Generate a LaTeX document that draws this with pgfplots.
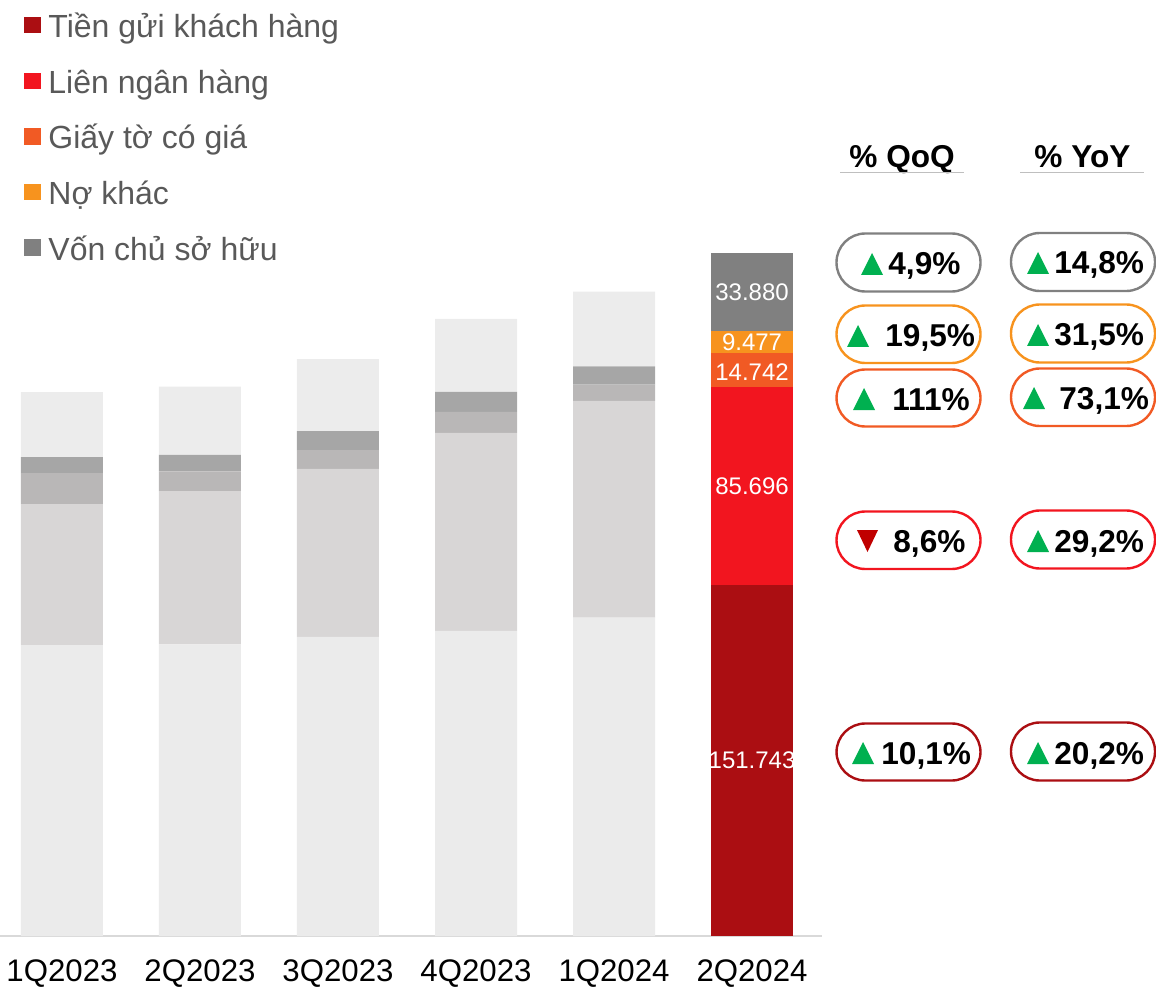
\documentclass[border=0pt]{standalone}
\usepackage{pgfplots}
\pgfplotsset{compat=1.18}
\usepackage{fontspec}
\setmainfont{Liberation Sans}
\definecolor{cA}{HTML}{AB0E12}
\definecolor{cB}{HTML}{F2151F}
\definecolor{cC}{HTML}{F15A24}
\definecolor{cD}{HTML}{F7931E}
\definecolor{cE}{HTML}{808080}
\definecolor{mA}{HTML}{EBEBEB}
\definecolor{mB}{HTML}{D8D6D6}
\definecolor{mC}{HTML}{B9B7B7}
\definecolor{mD}{HTML}{A6A6A6}
\definecolor{mE}{HTML}{ECECEC}
\definecolor{txt}{HTML}{595959}
\definecolor{upg}{HTML}{00B050}
\definecolor{dnr}{HTML}{C00000}
\definecolor{hl}{HTML}{BFBFBF}
\pgfplotsset{base/.style={
  at={(0pt,25.5pt)},anchor=south west,scale only axis,
  width=411pt,height=346.65pt,
  xmin=-0.449,xmax=5.507,ymin=0,ymax=300000,
  ybar stacked,bar width=41pt,clip=false,
  axis y line=none,
}}
\newcommand\pill[5]{% x left, y top, y bottom, colour
  \draw[#4,line width=1.2pt,rounded corners=14.4pt] (#1,#2) rectangle (#1+144,#3);}
\newcommand\up[2]{\fill[upg] (#1,#2) -- (#1+22,#2) -- (#1+11,#2-22) -- cycle;}
\newcommand\down[2]{\fill[dnr] (#1,#2) -- (#1+21,#2) -- (#1+10.5,#2+22) -- cycle;}
\newcommand\lab[3]{\node[anchor=base west,inner sep=0pt,font=\fontsize{15.8}{19}\selectfont\bfseries] at (#1,#2) {#3};}
\begin{document}
\begin{tikzpicture}
\path[use as bounding box] (0,0) rectangle (578pt,493.5pt);
\begin{axis}[base,
  axis x line=bottom,
  axis line style={-},
  x axis line style={draw=black!15,line width=1.3pt},
  xtick={0,1,2,3,4,5},
  xticklabels={1Q2023,2Q2023,3Q2023,4Q2023,1Q2024,2Q2024},
  major tick length=0pt,
  xticklabel style={font=\fontsize{15.6}{19}\selectfont,text=black,yshift=-8.5pt},
]
\addplot[fill=mA,draw=none] coordinates {(0,125900)(1,126200)(2,129400)(3,132000)(4,137800)};
\addplot[fill=mB,draw=none] coordinates {(0,61000)(1,66300)(2,72700)(3,85700)(4,93800)};
\addplot[fill=mC,draw=none] coordinates {(0,13400)(1,8500)(2,8200)(3,9100)(4,6990)};
\addplot[fill=mD,draw=none] coordinates {(0,6900)(1,7200)(2,8200)(3,8650)(4,7930)};
\addplot[fill=mE,draw=none] coordinates {(0,28100)(1,29500)(2,31150)(3,31600)(4,32300)};
\end{axis}
\begin{axis}[base,
  axis x line=none,
  point meta=explicit symbolic,
  nodes near coords,
  nodes near coords style={anchor=center,text=white,inner sep=0pt,font=\fontsize{12}{14}\selectfont},
  legend style={at={(0.0292,1.3367)},anchor=north west,draw=none,fill=none,inner sep=0pt,
    row sep=0pt,cells={anchor=west},
    nodes={font=\fontsize{16}{19}\selectfont,text=txt,text height=14pt,text depth=13.8pt,inner sep=0pt},
    /tikz/column 2/.style={column sep=0pt}},
  legend image code/.code={\fill[#1] (0pt,2pt) rectangle (8.5pt,10.2pt); \path[fill=none,draw=none] (0pt,0pt) -- (12pt,0pt);},
]
\addplot[fill=cA,draw=none] coordinates {(5,151743)[151.743]};
\addlegendentry{Tiền gửi khách hàng}
\addplot[fill=cB,draw=none] coordinates {(5,85696)[85.696]};
\addlegendentry{Liên ngân hàng}
\addplot[fill=cC,draw=none,nodes near coords style={yshift=-1pt}] coordinates {(5,14742)[14.742]};
\addlegendentry{Giấy tờ có giá}
\addplot[fill=cD,draw=none] coordinates {(5,9477)[9.477]};
\addlegendentry{Nợ khác}
\addplot[fill=cE,draw=none] coordinates {(5,33880)[33.880]};
\addlegendentry{Vốn chủ sở hữu}
\end{axis}
\begin{scope}[x=0.5pt,y=-0.5pt,yshift=493.5pt]
\lab{849}{167.5}{\% QoQ}
\lab{1034}{167.5}{\% YoY}
\draw[hl,line width=0.8pt] (840,172.5) -- (964,172.5);
\draw[hl,line width=0.8pt] (1020,172.5) -- (1144,172.5);
% pills QoQ
\pill{836.5}{233.5}{291.5}{cE}{}
\pill{836.5}{305.5}{363}{cD}{}
\pill{836.5}{369.5}{426.5}{cC}{}
\pill{836.5}{511.5}{569}{cB}{}
\pill{836.5}{723.5}{780.5}{cA}{}
% pills YoY
\pill{1011}{233}{291}{cE}{}
\pill{1011}{304.5}{362.5}{cD}{}
\pill{1011}{368.5}{426}{cC}{}
\pill{1011}{510.5}{568.5}{cB}{}
\pill{1011}{722.5}{780.5}{cA}{}
% QoQ
\up{861}{275}\lab{888}{275}{4,9\%}
\up{847}{347}\lab{885}{347}{19,5\%}
\up{853}{410}\lab{892}{410}{111\%}
\down{857}{530}\lab{893}{552}{8,6\%}
\up{852}{764}\lab{881}{764}{10,1\%}
% YoY
\up{1027}{274}\lab{1054}{274}{14,8\%}
\up{1027}{346}\lab{1054}{346}{31,5\%}
\up{1023}{409}\lab{1059}{409}{73,1\%}
\up{1027}{552}\lab{1054}{552}{29,2\%}
\up{1027}{764}\lab{1054}{764}{20,2\%}
\end{scope}
\end{tikzpicture}
\end{document}
